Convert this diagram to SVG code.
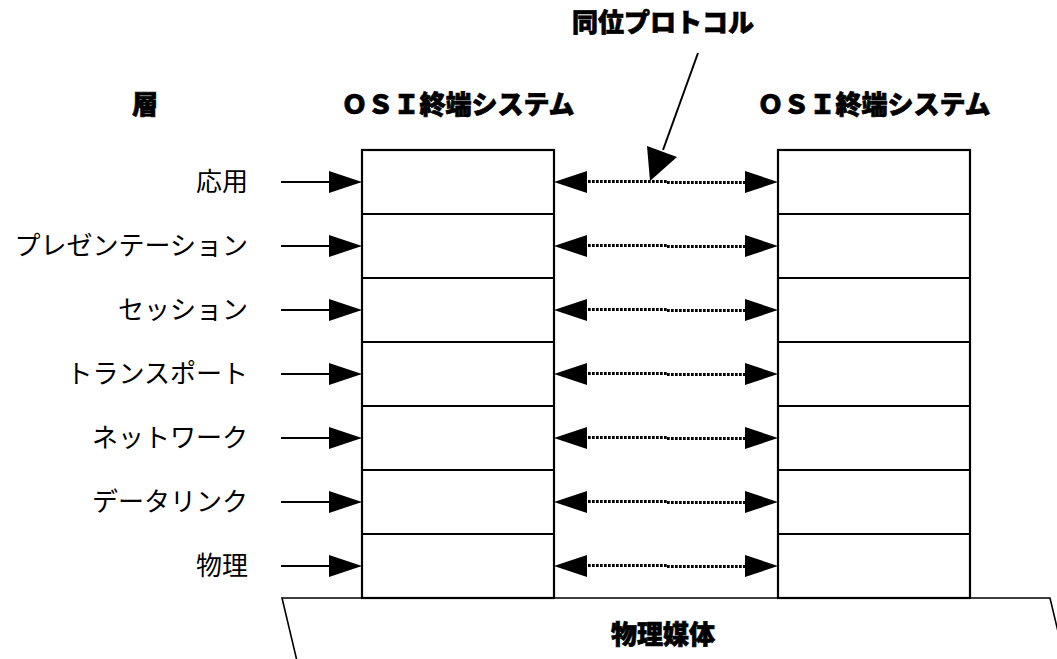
<svg xmlns="http://www.w3.org/2000/svg" width="1057" height="659" viewBox="0 0 1057 659">
<style>
text{font-family:"Noto Sans CJK JP","Noto Sans",sans-serif;font-size:26px;fill:#000}
.b{font-weight:900;stroke:#000;stroke-width:0.7}
.lbl{text-anchor:end}
.c{text-anchor:middle}
.box{fill:#fff;stroke:#000;stroke-width:2.2}
.ln{stroke:#000;stroke-width:2;fill:none}
.dot{stroke:#000;stroke-width:2.8;stroke-dasharray:2.7,1.3;fill:none}
.hd{fill:#000}
</style>
<defs>
<polygon id="hr" points="0,0 -33,-11 -33,11"/>
<polygon id="hl" points="0,0 33,-11 33,11"/>
</defs>
<rect width="1057" height="659" fill="#fff"/>
<g id="medium">
<polyline class="ln" points="297,661 282,598 1050,598 1065,661" style="stroke-width:1.6"/>
<text class="b c" x="663" y="644">物理媒体</text>
</g>
<g id="headers">
<text class="b c" x="145" y="114">層</text>
<text class="b c" x="663" y="32">同位プロトコル</text>
</g>
<g id="system-left">
<rect class="box" x="362" y="150" width="192" height="448"/>
<path class="ln" d="M362 214H554M362 278H554M362 342H554M362 406H554M362 470H554M362 534H554"/>
<text class="b c" x="458" y="114">ＯＳＩ終端システム</text>
</g>
<g id="system-right">
<rect class="box" x="778" y="150" width="192" height="448"/>
<path class="ln" d="M778 214H970M778 278H970M778 342H970M778 406H970M778 470H970M778 534H970"/>
<text class="b c" x="874" y="114">ＯＳＩ終端システム</text>
</g>
<g id="labels">
<text class="lbl" x="248" y="191">応用</text>
<text class="lbl" x="248" y="255">プレゼンテーション</text>
<text class="lbl" x="248" y="319">セッション</text>
<text class="lbl" x="248" y="383">トランスポート</text>
<text class="lbl" x="248" y="447">ネットワーク</text>
<text class="lbl" x="248" y="511">データリンク</text>
<text class="lbl" x="248" y="575">物理</text>
</g>
<g id="connectors">
<g id="in-arrows">
<path class="ln" d="M281 182H332M281 246H332M281 310H332M281 374H332M281 438H332M281 502H332M281 566H332"/>
<use href="#hr" x="362" y="182" class="hd"/>
<use href="#hr" x="362" y="246" class="hd"/>
<use href="#hr" x="362" y="310" class="hd"/>
<use href="#hr" x="362" y="374" class="hd"/>
<use href="#hr" x="362" y="438" class="hd"/>
<use href="#hr" x="362" y="502" class="hd"/>
<use href="#hr" x="362" y="566" class="hd"/>
</g>
<g id="peer-arrows">
<path class="dot" d="M588 181.5H667M667 182.5H745M588 245.5H667M667 246.5H745M588 309.5H667M667 310.5H745M588 373.5H667M667 374.5H745M588 437.5H667M667 438.5H745M588 501.5H667M667 502.5H745M588 565.5H667M667 566.5H745"/>
<use href="#hl" x="554" y="182" class="hd"/>
<use href="#hl" x="554" y="246" class="hd"/>
<use href="#hl" x="554" y="310" class="hd"/>
<use href="#hl" x="554" y="374" class="hd"/>
<use href="#hl" x="554" y="438" class="hd"/>
<use href="#hl" x="554" y="502" class="hd"/>
<use href="#hl" x="554" y="566" class="hd"/>
<use href="#hr" x="778" y="182" class="hd"/>
<use href="#hr" x="778" y="246" class="hd"/>
<use href="#hr" x="778" y="310" class="hd"/>
<use href="#hr" x="778" y="374" class="hd"/>
<use href="#hr" x="778" y="438" class="hd"/>
<use href="#hr" x="778" y="502" class="hd"/>
<use href="#hr" x="778" y="566" class="hd"/>
</g>
<g id="protocol-pointer">
<line class="ln" x1="698" y1="53" x2="663" y2="150"/>
<polygon class="hd" points="650,181 647,146 677,157"/>
</g>
</g>
</svg>
